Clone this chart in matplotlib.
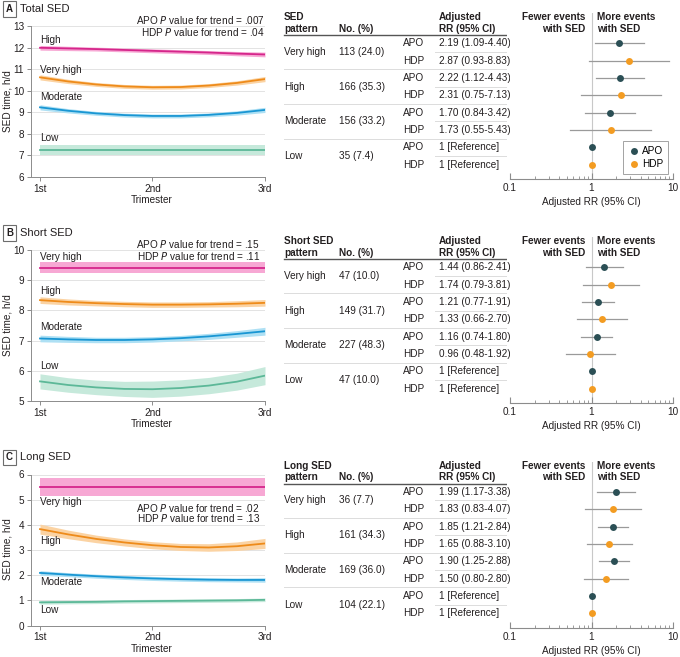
import matplotlib
matplotlib.use("Agg")
import matplotlib.pyplot as plt
from matplotlib import ticker
import numpy as np

plt.rcParams['font.family'] = ['Liberation Sans Narrow', 'Liberation Sans', 'DejaVu Sans']
plt.rcParams['mathtext.fontset'] = 'custom'
plt.rcParams['mathtext.it'] = 'Liberation Sans Narrow:italic'
plt.rcParams['mathtext.rm'] = 'Liberation Sans Narrow'

# ---------------- data ----------------
trimester = [1.0, 1.25, 1.5, 1.75, 2.0, 2.25, 2.5, 2.75, 3.0]
trimester_labels = ['1st', '2nd', '3rd']
series_names = ['Very high', 'High', 'Moderate', 'Low']

total_high = [11.99, 11.96, 11.93, 11.89, 11.85, 11.81, 11.77, 11.72, 11.68]
total_high_ci = [0.11, 0.10, 0.09, 0.09, 0.09, 0.09, 0.09, 0.10, 0.11]
total_vhigh = [10.62, 10.43, 10.29, 10.20, 10.16, 10.17, 10.24, 10.36, 10.54]
total_vhigh_ci = [0.12, 0.10, 0.09, 0.09, 0.09, 0.09, 0.09, 0.10, 0.12]
total_mod = [9.23, 9.07, 8.95, 8.87, 8.83, 8.83, 8.88, 8.97, 9.11]
total_mod_ci = [0.12, 0.10, 0.09, 0.09, 0.09, 0.09, 0.09, 0.10, 0.12]
total_low = [7.25, 7.25, 7.25, 7.25, 7.25, 7.25, 7.25, 7.25, 7.25]
total_low_ci = [0.25, 0.25, 0.25, 0.25, 0.25, 0.25, 0.25, 0.25, 0.25]

short_vhigh = [9.42, 9.42, 9.42, 9.42, 9.42, 9.42, 9.42, 9.42, 9.42]
short_vhigh_ci = [0.17, 0.17, 0.17, 0.17, 0.17, 0.17, 0.17, 0.17, 0.17]
short_high = [8.34, 8.28, 8.24, 8.21, 8.19, 8.19, 8.20, 8.22, 8.25]
short_high_ci = [0.11, 0.10, 0.09, 0.09, 0.09, 0.09, 0.09, 0.10, 0.11]
short_mod = [7.07, 7.04, 7.02, 7.02, 7.04, 7.08, 7.14, 7.22, 7.31]
short_mod_ci = [0.11, 0.10, 0.09, 0.09, 0.09, 0.09, 0.10, 0.11, 0.13]
short_low = [5.65, 5.53, 5.45, 5.40, 5.39, 5.43, 5.51, 5.64, 5.84]
short_low_ci = [0.25, 0.24, 0.24, 0.25, 0.27, 0.27, 0.27, 0.28, 0.30]

long_vhigh = [5.50, 5.50, 5.50, 5.50, 5.50, 5.50, 5.50, 5.50, 5.50]
long_vhigh_ci = [0.36, 0.36, 0.36, 0.36, 0.36, 0.36, 0.36, 0.36, 0.36]
long_high = [3.83, 3.62, 3.44, 3.30, 3.19, 3.12, 3.10, 3.15, 3.26]
long_high_ci = [0.20, 0.17, 0.15, 0.14, 0.14, 0.14, 0.15, 0.17, 0.20]
long_mod = [2.09, 2.02, 1.96, 1.91, 1.87, 1.84, 1.82, 1.81, 1.81]
long_mod_ci = [0.09, 0.08, 0.08, 0.08, 0.08, 0.08, 0.08, 0.08, 0.09]
long_low = [0.92, 0.93, 0.94, 0.96, 0.97, 0.98, 0.99, 1.00, 1.02]
long_low_ci = [0.07, 0.07, 0.07, 0.07, 0.07, 0.07, 0.07, 0.07, 0.07]

p_apo = ['.007', '.15', '.02']
p_hdp = ['.04', '.11', '.13']

n_total = ['113 (24.0)', '166 (35.3)', '156 (33.2)', '35 (7.4)']
n_short = ['47 (10.0)', '149 (31.7)', '227 (48.3)', '47 (10.0)']
n_long = ['36 (7.7)', '161 (34.3)', '169 (36.0)', '104 (22.1)']

total_apo_rr = [2.19, 2.22, 1.70, 1.0]
total_apo_lo = [1.09, 1.12, 0.84, None]
total_apo_hi = [4.40, 4.43, 3.42, None]
total_hdp_rr = [2.87, 2.31, 1.73, 1.0]
total_hdp_lo = [0.93, 0.75, 0.55, None]
total_hdp_hi = [8.83, 7.13, 5.43, None]

short_apo_rr = [1.44, 1.21, 1.16, 1.0]
short_apo_lo = [0.86, 0.77, 0.74, None]
short_apo_hi = [2.41, 1.91, 1.80, None]
short_hdp_rr = [1.74, 1.33, 0.96, 1.0]
short_hdp_lo = [0.79, 0.66, 0.48, None]
short_hdp_hi = [3.81, 2.70, 1.92, None]

long_apo_rr = [1.99, 1.85, 1.90, 1.0]
long_apo_lo = [1.17, 1.21, 1.25, None]
long_apo_hi = [3.38, 2.84, 2.88, None]
long_hdp_rr = [1.83, 1.65, 1.50, 1.0]
long_hdp_lo = [0.83, 0.88, 0.80, None]
long_hdp_hi = [4.07, 3.10, 2.80, None]

# ---------------- style ----------------
W, H = 680, 657
TXT = '#231f20'
GRAY = '#9a9a9a'
line_colors = {'Very high': '#ee8b1a', 'High': '#d5268b', 'Moderate': '#1996d3', 'Low': '#5cb898'}
band_colors = {'Very high': '#fbd3a3', 'High': '#f7a8d4', 'Moderate': '#aee0f4', 'Low': '#c6e9db'}
APO_C = '#2b4f55'
HDP_C = '#f39c22'
FS = 7.2

fig = plt.figure(figsize=(W / 100, H / 100), dpi=100)


def px_axes(l, t, r, b):
    return fig.add_axes([l / W, 1 - b / H, (r - l) / W, (b - t) / H])


def ftext(x, y, s, **kw):
    kw.setdefault('color', TXT)
    kw.setdefault('fontsize', FS)
    fig.text(x / W, 1 - y / H, s, **kw)


panels = [
    dict(letter='A', title='Total SED', head='SED\npattern', yl=(6, 13),
         curves=[('High', total_high, total_high_ci, 12.34),
                 ('Very high', total_vhigh, total_vhigh_ci, 10.98),
                 ('Moderate', total_mod, total_mod_ci, 9.69),
                 ('Low', total_low, total_low_ci, 7.80)],
         n=n_total,
         apo=(total_apo_rr, total_apo_lo, total_apo_hi),
         hdp=(total_hdp_rr, total_hdp_lo, total_hdp_hi),
         pright=265, py=(20, 32)),
    dict(letter='B', title='Short SED', head='Short SED\npattern', yl=(5, 10),
         curves=[('High', short_vhigh, short_vhigh_ci, 9.78),
                 ('Very high', short_high, short_high_ci, 8.63),
                 ('Moderate', short_mod, short_mod_ci, 7.44),
                 ('Low', short_low, short_low_ci, 6.15)],
         labels=['Very high', 'High', 'Moderate', 'Low'],
         n=n_short,
         apo=(short_apo_rr, short_apo_lo, short_apo_hi),
         hdp=(short_hdp_rr, short_hdp_lo, short_hdp_hi),
         pright=260, py=(20, 32)),
    dict(letter='C', title='Long SED', head='Long SED\npattern', yl=(0, 6),
         curves=[('High', long_vhigh, long_vhigh_ci, 4.90),
                 ('Very high', long_high, long_high_ci, 3.34),
                 ('Moderate', long_mod, long_mod_ci, 1.71),
                 ('Low', long_low, long_low_ci, 0.62)],
         labels=['Very high', 'High', 'Moderate', 'Low'],
         n=n_long,
         apo=(long_apo_rr, long_apo_lo, long_apo_hi),
         hdp=(long_hdp_rr, long_hdp_lo, long_hdp_hi),
         pright=260, py=(59, 70)),
]
offsets = [0, 224, 448.5]

ROW0, PITCH = 43.3, 17.35


def row_of(px):
    return (px - ROW0) / PITCH


for k, (P, off) in enumerate(zip(panels, offsets)):
    # ---------- title ----------
    ftext(9.5, 9 + off, P['letter'], fontsize=7, fontweight='bold', ha='center', va='center',
          bbox=dict(boxstyle='square,pad=0.3', fc='white', ec='#6d6d6d', lw=0.8))
    ftext(20, 9 + off, P['title'], fontsize=8, ha='left', va='center')

    # ---------- line chart ----------
    ax = px_axes(31, 26 + off, 265, 177 + off)
    labels = P.get('labels')
    for j, (cname, vals, ci, ly) in enumerate(P['curves']):
        v = np.array(vals)
        c = np.array(ci)
        ax.fill_between(trimester, v - c, v + c, color=band_colors[cname], lw=0, zorder=2)
        ax.plot(trimester, v, color=line_colors[cname], lw=1.3, zorder=3)
        lab = labels[j] if labels else cname
        ax.text(1.0, ly, lab, fontsize=FS, color=TXT, ha='left', va='center', zorder=4)
    ax.set_xlim(0.92, 3.0)
    ax.set_ylim(*P['yl'])
    ax.set_yticks(range(P['yl'][0], P['yl'][1] + 1))
    ax.set_xticks([1, 2, 3])
    ax.set_xticklabels(trimester_labels)
    ax.grid(axis='y', color='#e3e3e3', lw=0.7, zorder=0)
    for s in ['top', 'right']:
        ax.spines[s].set_visible(False)
    for s in ['left', 'bottom']:
        ax.spines[s].set_color('#8c8c8c')
        ax.spines[s].set_linewidth(0.7)
    ax.tick_params(axis='both', labelsize=FS, colors='#8c8c8c', labelcolor=TXT,
                   length=3, width=0.7, pad=2)
    ax.set_axisbelow(True)
    ftext(152, 200 + off, 'Trimester', ha='center', va='center')
    ftext(8, 101 + off, 'SED time, h/d', ha='center', va='center', rotation=90)
    py = P['py']
    ftext(P['pright'], py[0] + off, 'APO $P$ value for trend = ' + p_apo[k], ha='right', va='center')
    ftext(P['pright'], py[1] + off, 'HDP $P$ value for trend = ' + p_hdp[k], ha='right', va='center')

    # ---------- table ----------
    ylim = (row_of(179), row_of(13))
    tax = px_axes(280, 13 + off, 507, 179 + off)
    tax.set_xlim(280, 507)
    tax.set_ylim(*ylim)
    tax.axis('off')
    h1, h2 = P['head'].split('\n')
    hy1, hy2 = row_of(17), row_of(28.5)
    tax.text(284, hy1, h1, fontsize=FS, fontweight='bold', color=TXT, va='center')
    tax.text(284, hy2, h2, fontsize=FS, fontweight='bold', color=TXT, va='center')
    tax.text(339, hy2, 'No. (%)', fontsize=FS, fontweight='bold', color=TXT, va='center')
    tax.text(439, hy1, 'Adjusted', fontsize=FS, fontweight='bold', color=TXT, va='center')
    tax.text(439, hy2, 'RR (95% CI)', fontsize=FS, fontweight='bold', color=TXT, va='center')
    tax.plot([284, 507], [row_of(35), row_of(35)], color='#555555', lw=1.0)

    rows_rr = []
    for g in range(4):
        for nm, (rr, lo, hi) in (('APO', P['apo']), ('HDP', P['hdp'])):
            rows_rr.append((nm, rr[g], lo[g], hi[g]))
    for g in range(4):
        yc = 2 * g + 0.5
        tax.text(284, yc, series_names[g], fontsize=FS, color=TXT, va='center')
        tax.text(339, yc, P['n'][g], fontsize=FS, color=TXT, va='center')
        tax.plot([435, 507], [2 * g + 0.5, 2 * g + 0.5], color='#dcdcdc', lw=0.7)
        if g < 3:
            tax.plot([284, 507], [2 * g + 1.5, 2 * g + 1.5], color='#dcdcdc', lw=0.7)
    for i, (nm, rr, lo, hi) in enumerate(rows_rr):
        tax.text(403, i, nm, fontsize=FS, color=TXT, va='center')
        s = '1 [Reference]' if lo is None else f'{rr:.2f} ({lo:.2f}-{hi:.2f})'
        tax.text(439, i, s, fontsize=FS, color=TXT, va='center')

    # ---------- forest ----------
    fax = px_axes(510, 13 + off, 673, 179 + off)
    fax.set_xscale('log')
    fax.set_xlim(0.1, 10)
    fax.set_ylim(*ylim)
    fax.axvline(1, color='#c8c8c8', lw=0.8, zorder=1)
    for i, (nm, rr, lo, hi) in enumerate(rows_rr):
        col = APO_C if nm == 'APO' else HDP_C
        if lo is not None:
            fax.plot([lo, hi], [i, i], color=GRAY, lw=0.9, zorder=2)
        fax.plot([rr], [i], 'o', color=col, ms=5, mec='none', zorder=3,
                 label=nm if i < 2 else None)
    fax.text(0.46, hy1, 'Fewer events', transform=fax.get_yaxis_transform(),
             fontsize=FS, fontweight='bold', color=TXT, ha='right', va='center')
    fax.text(0.46, hy2, 'with SED', transform=fax.get_yaxis_transform(),
             fontsize=FS, fontweight='bold', color=TXT, ha='right', va='center')
    fax.text(0.535, hy1, 'More events', transform=fax.get_yaxis_transform(),
             fontsize=FS, fontweight='bold', color=TXT, ha='left', va='center')
    fax.text(0.535, hy2, 'with SED', transform=fax.get_yaxis_transform(),
             fontsize=FS, fontweight='bold', color=TXT, ha='left', va='center')
    for s in ['top', 'right', 'left']:
        fax.spines[s].set_visible(False)
    fax.spines['bottom'].set_color('#8c8c8c')
    fax.spines['bottom'].set_linewidth(0.8)
    fax.set_yticks([])
    fax.set_xticks([0.1, 1, 10])
    fax.set_xticklabels(['0.1', '1', '10'])
    fax.xaxis.set_minor_locator(ticker.LogLocator(base=10, subs=np.arange(2, 10)))
    fax.xaxis.set_minor_formatter(ticker.NullFormatter())
    fax.tick_params(axis='x', which='major', direction='in', length=4, width=0.8,
                    colors='#8c8c8c', labelcolor=TXT, labelsize=FS, pad=3)
    fax.tick_params(axis='x', which='minor', direction='in', length=2.2, width=0.6,
                    colors='#8c8c8c')
    fax.set_xlabel('Adjusted RR (95% CI)', fontsize=FS, color=TXT, labelpad=3)
    if k == 0:
        leg = fax.legend(loc='lower right', bbox_to_anchor=(0.97, 0.03), fontsize=FS,
                         frameon=True, fancybox=False, edgecolor='#8c8c8c',
                         handletextpad=0.2, borderpad=0.5, handlelength=1.2,
                         borderaxespad=0, labelspacing=0.3)
        leg.get_frame().set_linewidth(0.7)

fig.savefig('out.png', dpi=100)
